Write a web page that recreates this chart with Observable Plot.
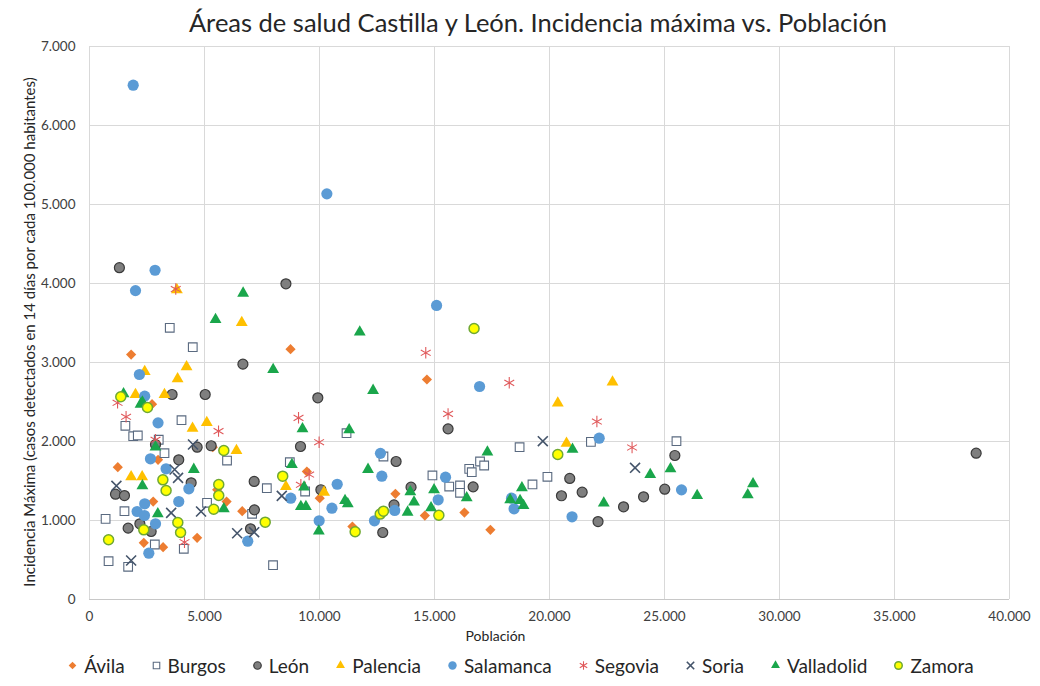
<!DOCTYPE html>
<html>
<head>
<meta charset="utf-8">
<script src="https://cdn.jsdelivr.net/npm/d3@7"></script>
<script src="https://cdn.jsdelivr.net/npm/@observablehq/plot@0.6"></script>
<style>
  html, body { margin: 0; padding: 0; background: #fff; }
  body { width: 1040px; height: 686px; position: relative; overflow: hidden; font-family: Lato, "Liberation Sans", sans-serif; }
  #title { position: absolute; left: 36px; top: 5px; width: 1004px; text-align: center; font-size: 25.5px; line-height: 34px; color: #262626; z-index: 2; }
  #chart { position: absolute; left: 0; top: 30px; z-index: 1; }
  #legend { position: absolute; left: 0; top: 650px; width: 1040px; height: 30px; display: flex; justify-content: center; align-items: center; gap: 25px; font-size: 19px; color: #262626; }
  .item { display: flex; align-items: center; gap: 6px; }
</style>
</head>
<body>
<div id="title">Áreas de salud Castilla y León. Incidencia máxima vs. Población</div>
<div id="chart"></div>
<div id="legend"></div>
<script>
// Población, Incidencia máxima (casos por 100.000 hab. en 14 días)
const avila = [[1230,1675],[1810,3101],[2720,2472],[2980,1768],[2770,1240],[2360,718],[3200,662],[4680,781],[5360,1928],[5550,1390],[5960,1240],[6640,1118],[8740,3169],[9450,1620],[10010,1282],[11430,924],[13300,1338],[14580,1063],[14670,2785],[16300,1101],[17430,882]];
const burgos = [[700,1021],[830,485],[1680,414],[1520,1118],[1560,2199],[1900,2067],[2100,2076],[2840,696],[3010,2022],[3260,1852],[3490,3439],[4000,2270],[4100,642],[4490,3194],[5110,1224],[5980,1759],[7070,1085],[7710,1409],[7980,434],[8710,1738],[9375,1367],[11175,2105],[12780,1810],[14910,1570],[15640,1430],[16110,1443],[16110,1351],[16510,1654],[16620,1611],[16980,1747],[17160,1696],[18700,1928],[19260,1456],[19910,1553],[21800,1995],[25520,2004]];
const leon = [[1300,4200],[1130,1333],[1520,1316],[1680,903],[2190,958],[2680,861],[2870,1962],[3590,2595],[3880,1768],[4420,1477],[4680,1928],[5030,2595],[5290,1946],[6670,2979],[7000,895],[7170,1135],[7160,1494],[8540,3996],[9174,1937],[9927,2553],[10060,1389],[12750,848],[13240,1198],[13330,1747],[13980,1422],[15590,2160],[16680,1426],[20520,1313],[20880,1532],[21420,1358],[22110,987],[23220,1173],[24090,1300],[25010,1396],[25450,1823],[38550,1852]];
const palencia = [[1810,1553],[2290,1553],[2000,2595],[2400,2886],[3260,2595],[3800,3920],[3830,2794],[4220,2945],[4480,2168],[5100,2240],[6390,1886],[6620,3506],[8540,1430],[10200,1358],[20360,2485],[20740,1978],[22740,2751]];
const salamanca = [[1900,6510],[2850,4168],[2000,3910],[2170,2848],[2400,2574],[2980,2236],[2650,1781],[3330,1654],[4320,1401],[2070,1114],[2390,1063],[2400,1211],[3880,1240],[2870,958],[2580,586],[6880,738],[8750,1282],[10320,5135],[10770,1459],[10540,1156],[9985,996],[12650,1850],[12710,1561],[13270,1127],[12390,996],[15090,3722],[16960,2696],[15480,1548],[15160,1262],[18350,1283],[18460,1148],[20980,1047],[22160,2042],[25740,1388]];
const segovia = [[1220,2490],[1590,2313],[2870,2022],[3750,3930],[4130,725],[5610,2131],[9088,2300],[9983,1991],[9550,1582],[9190,1452],[14620,3123],[15590,2350],[18250,2743],[22060,2253],[23590,1924]];
const soria = [[1170,1439],[1810,494],[3700,1646],[3850,1540],[3550,1097],[4500,1962],[4850,1114],[6420,839],[7160,852],[8360,1312],[19710,2004],[23720,1667]];
const valladolid = [[1480,2604],[2220,2472],[2300,2500],[2300,1439],[2870,1928],[2970,1085],[4535,1646],[5480,3544],[5840,1148],[6680,3877],[7985,2911],[8800,1709],[9261,2161],[9330,1422],[9190,1177],[9410,1177],[9970,865],[11110,1253],[11230,1211],[11290,2148],[11750,3384],[12110,1646],[12330,2646],[13830,1105],[13950,1363],[14110,1232],[14850,1161],[14980,1389],[16400,1287],[17300,1865],[18290,1262],[18720,1253],[18800,1414],[18870,1190],[21000,1900],[22360,1219],[24380,1582],[25260,1654],[26420,1316],[28620,1325],[28850,1464]];
const zamora = [[1360,2566],[2520,2430],[3190,1515],[3330,1380],[5620,1456],[5620,1316],[5400,1143],[830,756],[2360,882],[3840,975],[3960,848],[7640,979],[8400,1561],[5840,1886],[11550,857],[12640,1081],[12780,1118],[15190,1067],[16720,3430],[20360,1835]];

const xTicks = [0,5000,10000,15000,20000,25000,30000,35000,40000];
const yTicks = [0,1000,2000,3000,4000,5000,6000,7000];
const xLabel = "Población";
const yLabel = "Incidencia Máxima (casos detectados en 14 días por cada 100.000 habitantes)";

const fmt = d => d3.format(",")(d).replace(/,/g, ".");

const series = [
  {name: "Ávila", data: avila, symbol: "diamond2", fill: "#ED7D31", stroke: "none", r: 4.6, sw: 0},
  {name: "Burgos", data: burgos, symbol: "square", fill: "#ffffff", stroke: "#5A6A80", r: 4.9, sw: 1.1},
  {name: "León", data: leon, symbol: "circle", fill: "#7F7F7F", stroke: "#3A3A3A", r: 5, sw: 1.2},
  {name: "Palencia", data: palencia, symbol: "triangle", fill: "#FFC000", stroke: "none", r: 4.4, sw: 0},
  {name: "Salamanca", data: salamanca, symbol: "circle", fill: "#5B9BD5", stroke: "none", r: 5.6, sw: 0},
  {name: "Segovia", data: segovia, symbol: "asterisk", fill: "none", stroke: "#E0595B", r: 5.4, sw: 1.1},
  {name: "Soria", data: soria, symbol: "times", fill: "none", stroke: "#44546A", r: 4.6, sw: 1.6},
  {name: "Valladolid", data: valladolid, symbol: "triangle", fill: "#1AA64B", stroke: "none", r: 4.4, sw: 0},
  {name: "Zamora", data: zamora, symbol: "circle", fill: "#FFFF00", stroke: "#6FA833", r: 5, sw: 1.5}
];

const marks = [
  Plot.gridX(xTicks, {stroke: "#d9d9d9", strokeOpacity: 1}),
  Plot.gridY(yTicks, {stroke: "#d9d9d9", strokeOpacity: 1}),
  Plot.ruleY([0], {stroke: "#c8c8c8"}),
  Plot.axisX(xTicks, {tickSize: 0, tickPadding: 12, tickFormat: fmt, fontSize: 13.5, color: "#404040", label: null}),
  Plot.axisY(yTicks, {tickSize: 0, tickPadding: 14, tickFormat: fmt, fontSize: 13.5, color: "#404040", label: null}),
  Plot.text([yLabel], {frameAnchor: "left", textAnchor: "middle", rotate: -90, dx: -59, dy: 9, fontSize: 15, fill: "#262626", lineAnchor: "middle"}),
  Plot.text([xLabel], {frameAnchor: "bottom", textAnchor: "middle", dx: -54, dy: 37, fontSize: 14, fill: "#262626", lineAnchor: "middle"})
];
for (const s of series) {
  marks.push(Plot.dot(s.data, {x: d => d[0], y: d => d[1], symbol: s.symbol, fill: s.fill, stroke: s.stroke, strokeWidth: s.sw, r: s.r}));
}

const chart = Plot.plot({
  width: 1040,
  height: 620,
  marginLeft: 89,
  marginRight: 31,
  marginTop: 16,
  marginBottom: 51,
  style: {fontFamily: "Lato, 'Liberation Sans', sans-serif", background: "transparent"},
  x: {domain: [0, 40000]},
  y: {domain: [0, 7000]},
  marks
});
document.getElementById("chart").appendChild(chart);

// Legend
const legend = document.getElementById("legend");
for (const s of series) {
  const item = document.createElement("div");
  item.className = "item";
  const sym = Plot.dot([0], {x: () => 0, y: () => 0, symbol: s.symbol, fill: s.fill, stroke: s.stroke, strokeWidth: s.sw, r: s.r * 0.75});
  const svg = Plot.plot({width: 12, height: 12, margin: 0, x: {domain: [-1, 1], axis: null}, y: {domain: [-1, 1], axis: null}, marks: [sym]});
  svg.style.overflow = "visible";
  item.appendChild(svg);
  const t = document.createElement("span");
  t.textContent = s.name;
  item.appendChild(t);
  legend.appendChild(item);
}
</script>
</body>
</html>
